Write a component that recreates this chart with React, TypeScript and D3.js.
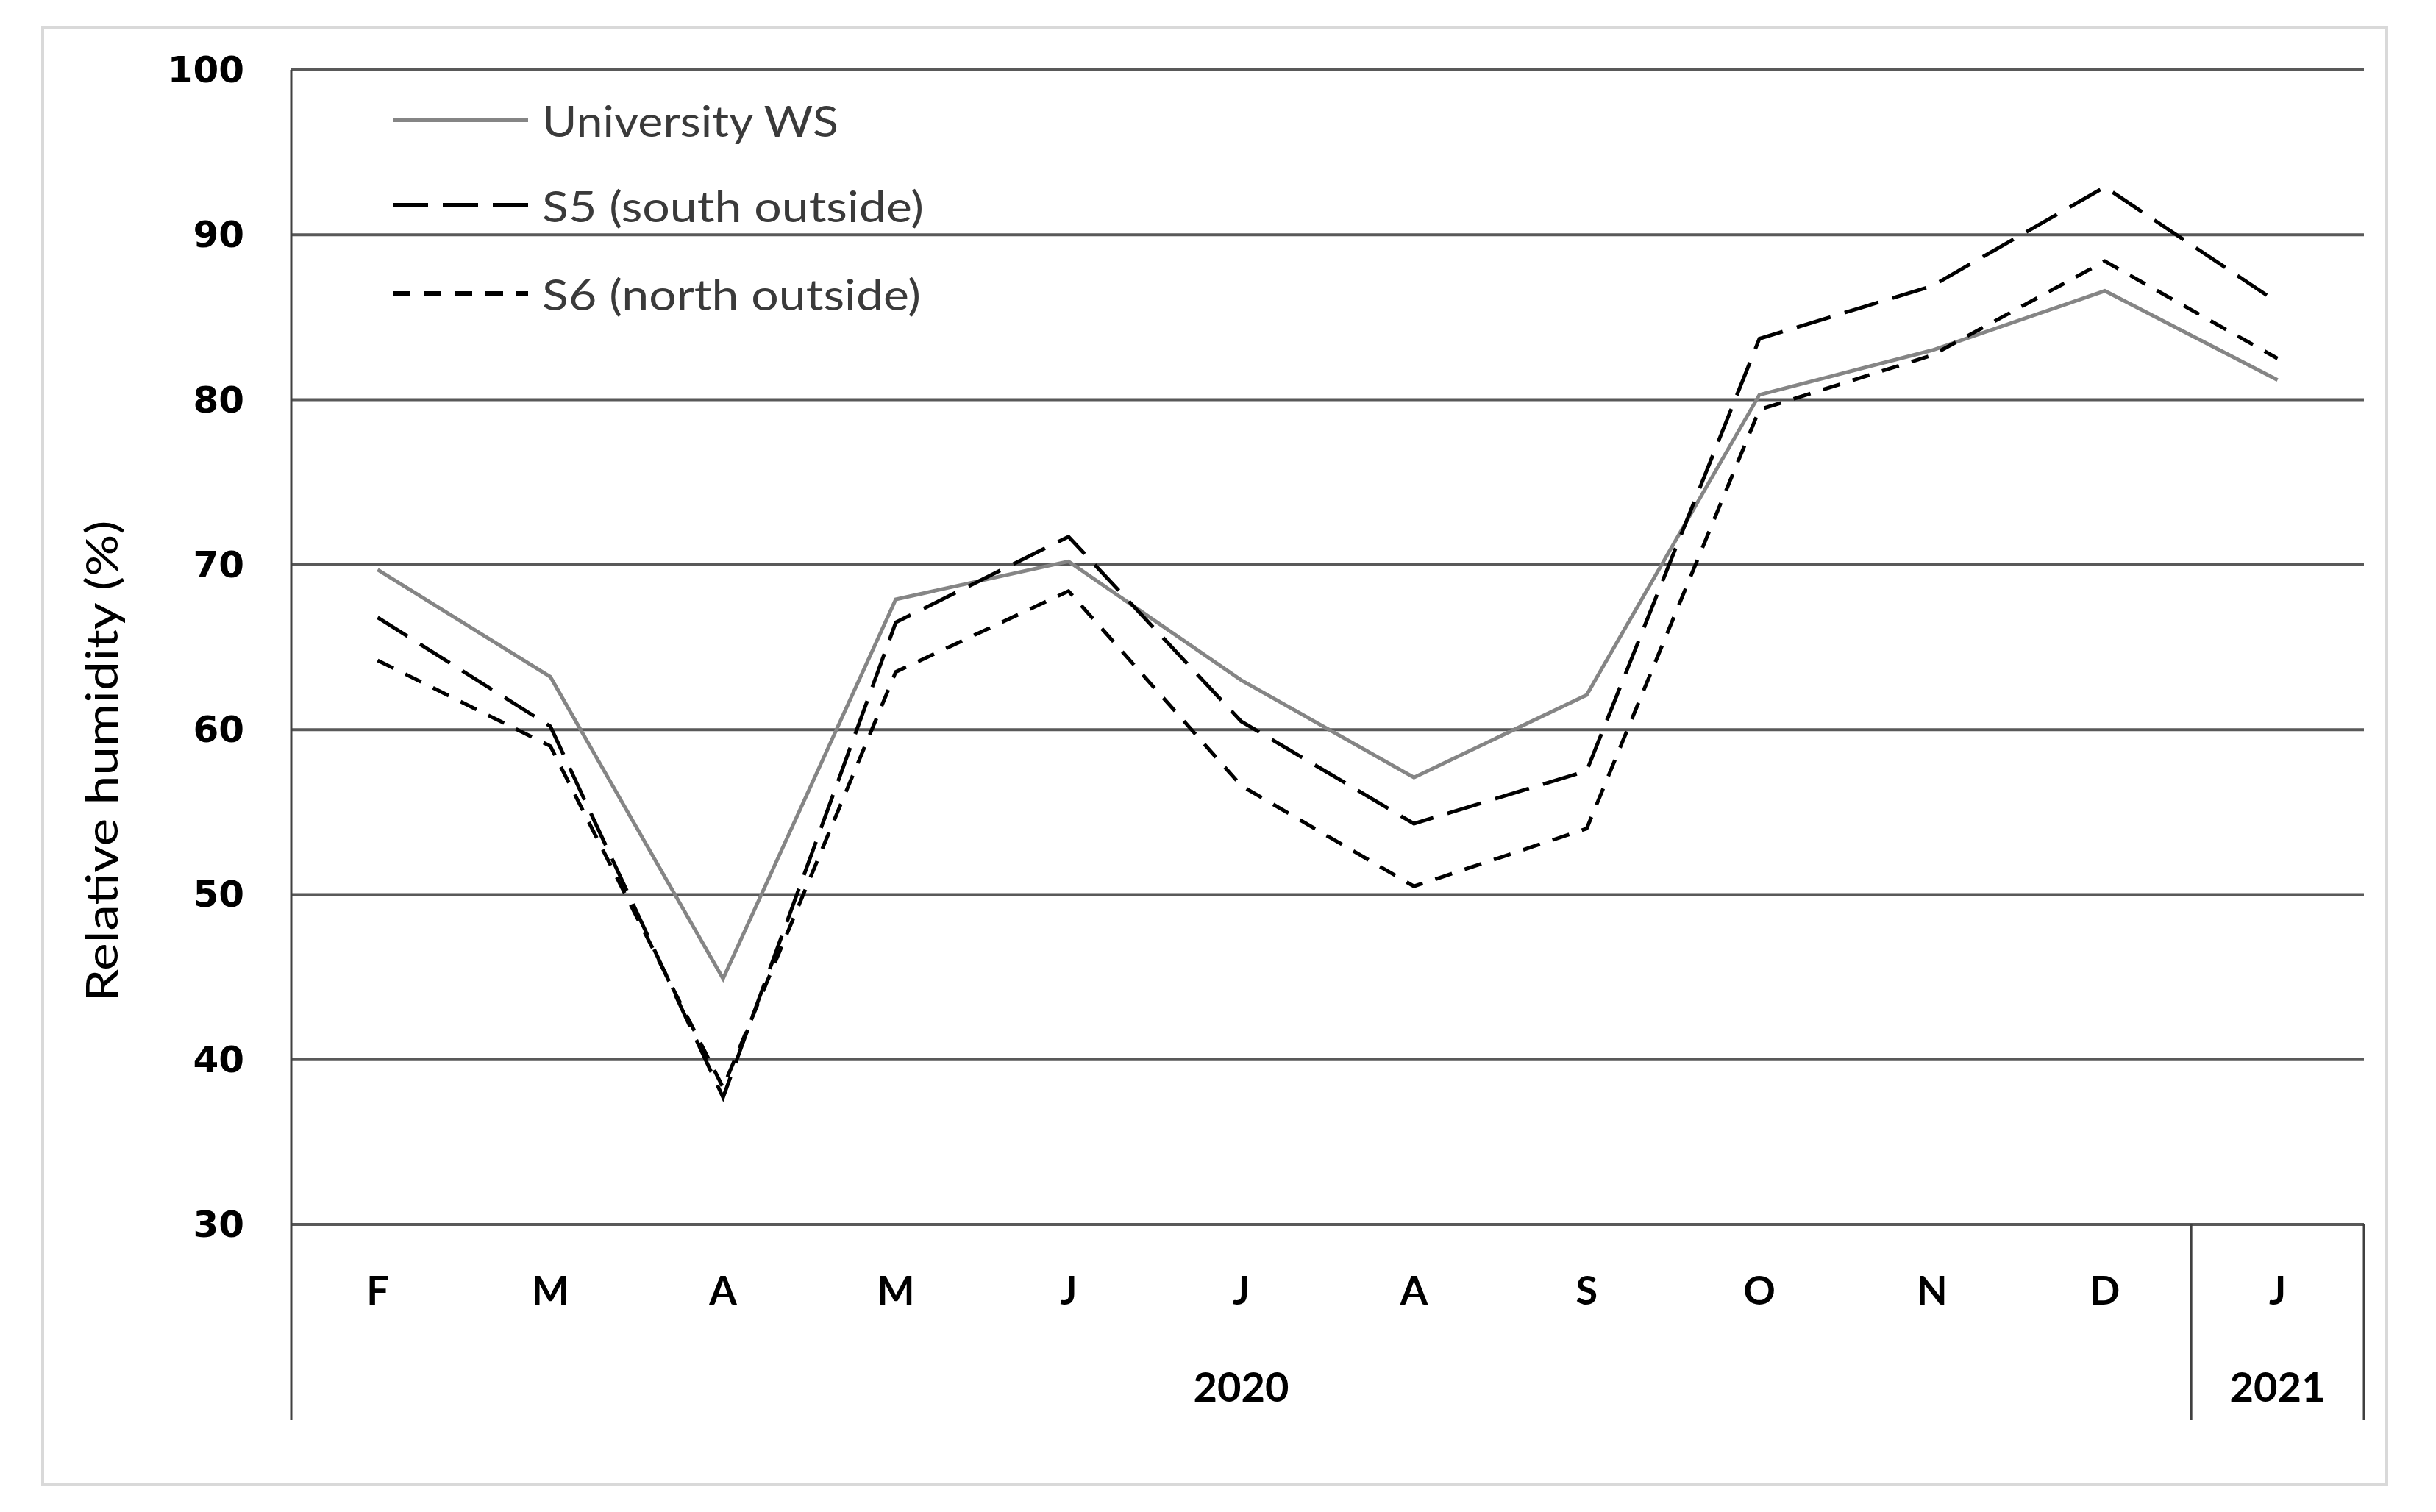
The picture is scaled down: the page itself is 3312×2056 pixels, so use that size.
import * as d3 from 'd3';

const months = ['F', 'M', 'A', 'M', 'J', 'J', 'A', 'S', 'O', 'N', 'D', 'J'];
const years = [
  { label: '2020', from: 0, to: 11 },
  { label: '2021', from: 11, to: 12 },
];
const universityWS = [69.7, 63.2, 44.9, 67.9, 70.2, 63.0, 57.1, 62.1, 80.3, 83.0, 86.6, 81.2];
const s5South = [66.8, 60.2, 37.7, 66.5, 71.7, 60.5, 54.3, 57.5, 83.7, 86.9, 92.9, 85.9];
const s6North = [64.2, 59.0, 38.3, 63.5, 68.4, 56.6, 50.5, 54.0, 79.4, 82.7, 88.4, 82.5];
const yTicks = [30, 40, 50, 60, 70, 80, 90, 100];

const series = [
  { name: 'University WS', values: universityWS, color: '#858585', width: 5, dash: 'none', textLen: 403 },
  { name: 'S5 (south outside)', values: s5South, color: '#000', width: 5, dash: '48,20', textLen: 519 },
  { name: 'S6 (north outside)', values: s6North, color: '#000', width: 5, dash: '24,18', textLen: 515 },
];

export default function App() {
  const W = 3312;
  const H = 2056;
  const left = 396;
  const right = 3214;
  const top = 95;
  const bottom = 1665;
  const axisBottom = 1931;

  const x = d3.scaleBand<number>()
    .domain(months.map((_, i) => i))
    .range([left, right]);
  const y = d3.scaleLinear().domain([30, 100]).range([bottom, top]);
  const cx = (i: number) => (x(i) ?? 0) + x.bandwidth() / 2;

  const line = d3.line<number>()
    .x((_, i) => cx(i))
    .y(d => y(d));

  const legendY = [163, 279, 399];

  return (
    <svg width={W} height={H} style={{ position: 'absolute', left: 0, top: 0, background: '#fff' }}>
      <rect x={58} y={37} width={3187} height={1982} fill="#fff" stroke="#d9d9d9" strokeWidth={4} />

      {/* gridlines */}
      {yTicks.map(t => (
        <line key={t} x1={left} x2={right} y1={y(t)} y2={y(t)} stroke="#595959" strokeWidth={4} />
      ))}
      {yTicks.map(t => (
        <text key={'l' + t} x={332} y={y(t)} textAnchor="end" dominantBaseline="central"
          fontFamily="'DejaVu Sans', sans-serif" fontWeight="bold" fontSize={50} fill="#000">
          {t}
        </text>
      ))}

      {/* axis frame and category separators */}
      <line x1={left} x2={left} y1={top} y2={axisBottom} stroke="#404040" strokeWidth={3} />
      <line x1={x(11)} x2={x(11)} y1={bottom} y2={axisBottom} stroke="#404040" strokeWidth={3} />
      <line x1={right} x2={right} y1={bottom} y2={axisBottom} stroke="#404040" strokeWidth={3} />

      {months.map((m, i) => (
        <text key={'m' + i} x={cx(i)} y={1753} textAnchor="middle" dominantBaseline="central"
          fontFamily="Lato, sans-serif" fontWeight="bold" fontSize={54} fill="#000">
          {m}
        </text>
      ))}
      {years.map(yr => {
        const x0 = x(yr.from) ?? 0;
        const x1 = yr.to >= months.length ? right : (x(yr.to) ?? 0);
        return (
          <text key={yr.label} x={(x0 + x1) / 2} y={1884} textAnchor="middle" dominantBaseline="central"
            fontFamily="Lato, sans-serif" fontWeight="bold" fontSize={56} fill="#000">
            {yr.label}
          </text>
        );
      })}

      <text transform={`translate(137,1035) rotate(-90)`} textAnchor="middle" dominantBaseline="central"
        fontFamily="Lato, sans-serif" fontSize={60} fill="#000" textLength={655} lengthAdjust="spacingAndGlyphs">
        Relative humidity (%)
      </text>

      {/* series */}
      {series.map(s => (
        <path key={s.name} d={line(s.values) || ''} fill="none" stroke={s.color}
          strokeWidth={s.width} strokeDasharray={s.dash} strokeLinejoin="miter" />
      ))}

      {/* legend */}
      {series.map((s, i) => (
        <g key={'lg' + i}>
          <line x1={534} x2={718} y1={legendY[i]} y2={legendY[i]} stroke={s.color}
            strokeWidth={s.width + 1} strokeDasharray={s.dash} />
          <text x={737} y={legendY[i]} dominantBaseline="central" fontFamily="Lato, sans-serif"
            fontSize={58} fill="#3a3a3a" textLength={s.textLen} lengthAdjust="spacingAndGlyphs">
            {s.name}
          </text>
        </g>
      ))}
    </svg>
  );
}
